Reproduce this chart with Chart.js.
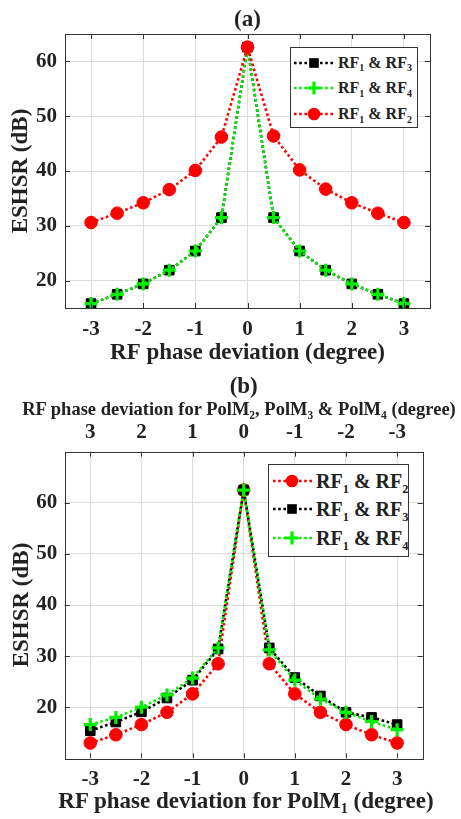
<!DOCTYPE html>
<html>
<head>
<meta charset="utf-8">
<script src="https://cdn.jsdelivr.net/npm/chart.js@4/dist/chart.umd.min.js"></script>
<style>
html,body{margin:0;padding:0;background:#fff;}
body{width:461px;height:819px;position:relative;overflow:hidden;font-family:"Liberation Serif","Times New Roman",serif;font-weight:bold;color:#222;}
#ca{position:absolute;left:0;top:0;}
#cb{position:absolute;left:0;top:372px;}
.leg{position:absolute;border:1px solid #333;background:#fff;box-sizing:border-box;}
.row{position:absolute;left:0;white-space:nowrap;}
.row svg{position:absolute;left:0;top:0;}
.row span{position:absolute;top:0;}
sub{vertical-align:baseline;position:relative;top:0.38em;font-size:0.62em;}
.axt{position:absolute;white-space:nowrap;text-align:center;transform:translateX(-50%);}
</style>
</head>
<body>
<canvas id="ca" width="461" height="372"></canvas>
<canvas id="cb" width="461" height="447"></canvas>
<div id="lega" class="leg" style="left:290px;top:47px;width:128px;height:81px;"></div>
<div id="legb" class="leg" style="left:268px;top:464px;width:141px;height:93px;"></div>
<div id="tb_top" class="axt" style="left:239px;top:399.75px;font-size:18.5px;line-height:18.5px;"></div>
<div id="tb_bot" class="axt" style="left:246px;top:788.5px;font-size:23px;line-height:23px;"></div>
<script>
// ---- data ----
const phase = [-3, -2.5, -2, -1.5, -1, -0.5, 0, 0.5, 1, 1.5, 2, 2.5, 3];
const xTicks = [-3, -2, -1, 0, 1, 2, 3];
const yTicks = [20, 30, 40, 50, 60];

const a_rf12 = [30.6, 32.3, 34.2, 36.6, 40.1, 46.2, 62.6, 46.4, 40.2, 36.7, 34.2, 32.3, 30.6];
const a_rf13 = [15.8, 17.5, 19.4, 21.9, 25.4, 31.5, 62.6, 31.5, 25.4, 21.9, 19.4, 17.5, 15.8];
const a_rf14 = [15.8, 17.5, 19.4, 21.9, 25.4, 31.5, 62.6, 31.5, 25.4, 21.9, 19.4, 17.5, 15.8];

const b_rf12 = [13.0, 14.6, 16.6, 19.0, 22.6, 28.5, 62.5, 28.5, 22.6, 19.0, 16.6, 14.6, 13.0];
const b_rf13 = [15.4, 17.1, 19.1, 21.8, 25.3, 31.4, 62.5, 31.6, 25.8, 22.2, 19.0, 18.0, 16.6];
const b_rf14 = [16.6, 18.0, 20.0, 22.4, 25.7, 31.6, 62.5, 31.2, 25.3, 21.6, 19.0, 17.2, 15.6];

const lbl12 = 'RF₁ & RF₂';
const lbl13 = 'RF₁ & RF₃';
const lbl14 = 'RF₁ & RF₄';

const titleA = '(a)';
const titleB = '(b)';
const xTitleA = 'RF phase deviation (degree)';
const xTitleB = 'RF phase deviation for PolM₁ (degree)';
const x2TitleB = 'RF phase deviation for PolM₂, PolM₃ & PolM₄ (degree)';
const yTitle = 'ESHSR (dB)';

// ---- styling ----
const FONT = '"Liberation Serif", "Times New Roman", serif';
const INK = '#222';
const GRID = '#dcdcdc';
const RED = '#ff0000', GREEN = '#00f000', BLACK = '#000000';

function pts(vals) { return phase.map((x, i) => ({x: x, y: vals[i]})); }
function setTicks(vals) { return function (scale) { scale.ticks = vals.map(v => ({value: v})); }; }
function f(size, lh) { return {family: FONT, size: size, weight: 'bold', lineHeight: lh}; }

const STY = {
  red:   {color: RED, pointStyle: 'circle', r: 6.3, bw: 1},
  black: {color: BLACK, pointStyle: 'rect', r: 6.8, bw: 1},
  green: {color: GREEN, pointStyle: 'cross', r: 6.5, bw: 3.2}
};
function ds(label, vals, s, order) {
  const st = STY[s];
  return {
    label: label, data: pts(vals), order: order,
    borderColor: st.color, backgroundColor: st.color,
    borderWidth: 2.6, borderDash: [2.6, 2.6], tension: 0, fill: false,
    pointStyle: st.pointStyle, pointRadius: st.r, pointBorderWidth: st.bw,
    pointBackgroundColor: st.color, pointBorderColor: st.color, styleKey: s
  };
}

const frame = {
  id: 'frame',
  afterDraw(chart) {
    const ctx = chart.ctx, a = chart.chartArea;
    const xs = chart.scales.x, ys = chart.scales.y;
    ctx.save();
    ctx.strokeStyle = '#333';
    ctx.lineWidth = 1;
    ctx.beginPath();
    xTicks.forEach(v => {
      const px = Math.round(xs.getPixelForValue(v)) + 0.5;
      ctx.moveTo(px, a.bottom); ctx.lineTo(px, a.bottom - 5);
      ctx.moveTo(px, a.top); ctx.lineTo(px, a.top + 5);
    });
    yTicks.forEach(v => {
      const py = Math.round(ys.getPixelForValue(v)) + 0.5;
      ctx.moveTo(a.left, py); ctx.lineTo(a.left + 5, py);
      ctx.moveTo(a.right, py); ctx.lineTo(a.right - 5, py);
    });
    ctx.stroke();
    ctx.strokeRect(Math.round(a.left) + 0.5, Math.round(a.top) + 0.5, Math.round(a.right - a.left), Math.round(a.bottom - a.top));
    ctx.restore();
  }
};

function baseX(pad, title) {
  return {
    type: 'linear', min: -3.5, max: 3.5, afterBuildTicks: setTicks(xTicks),
    grid: {color: GRID, drawTicks: false}, border: {display: false},
    ticks: {padding: pad, color: INK, font: f(21, 1)},
    title: title
  };
}
function baseY(min, max, pad, tpad) {
  return {
    type: 'linear', min: min, max: max, afterBuildTicks: setTicks(yTicks),
    grid: {color: GRID, drawTicks: false}, border: {display: false},
    ticks: {padding: pad, color: INK, font: f(21, 1)},
    title: {display: true, text: yTitle, color: INK, font: f(23, 1), padding: tpad}
  };
}

const chartA = new Chart(document.getElementById('ca'), {
  type: 'line',
  data: {datasets: [
    ds(lbl13, a_rf13, 'black', 2),
    ds(lbl14, a_rf14, 'green', 1),
    ds(lbl12, a_rf12, 'red', 0)
  ]},
  options: {
    responsive: false, animation: false, devicePixelRatio: 1,
    layout: {padding: {left: 9.5, right: 31, top: 0, bottom: 7.5}},
    plugins: {
      legend: {display: false}, tooltip: {enabled: false},
      title: {display: true, fullSize: false, text: titleA, color: INK, font: f(23, 1), padding: {top: 8.5, bottom: 2.5}}
    },
    scales: {
      x: baseX(11.5, {display: true, text: xTitleA, color: INK, font: f(23, 1), padding: {top: -10.5, bottom: 0}}),
      y: baseY(15, 65, 8, {top: 0, bottom: -4.5})
    }
  },
  plugins: [frame]
});

const chartB = new Chart(document.getElementById('cb'), {
  type: 'line',
  data: {datasets: [
    ds(lbl12, b_rf12, 'red', 2),
    ds(lbl13, b_rf13, 'black', 1),
    ds(lbl14, b_rf14, 'green', 0)
  ]},
  options: {
    responsive: false, animation: false, devicePixelRatio: 1,
    layout: {padding: {left: 10.2, right: 38.3, top: 0, bottom: 17.3}},
    plugins: {
      legend: {display: false}, tooltip: {enabled: false},
      title: {display: true, fullSize: false, text: titleB, color: INK, font: f(23, 1), padding: {top: 4, bottom: 15.3}}
    },
    scales: {
      x: baseX(11.2, {display: false}),
      x2: {
        type: 'linear', position: 'top', reverse: true, min: -3.5, max: 3.5,
        afterBuildTicks: setTicks(xTicks),
        grid: {display: false, drawTicks: false}, border: {display: false},
        ticks: {padding: 8.2, color: INK, font: f(21, 1)},
        title: {display: false}
      },
      y: baseY(10, 70, 7.4, {top: 0, bottom: -4.3})
    }
  },
  plugins: [frame]
});

// ---- HTML text with real subscripts ----
function toHTML(s) {
  const m = {'₁': '1', '₂': '2', '₃': '3', '₄': '4'};
  return s.replace(/&/g, '&amp;').replace(/[₁₂₃₄]/g, c => '<sub>' + m[c] + '</sub>');
}
document.getElementById('tb_top').innerHTML = toHTML(x2TitleB);
document.getElementById('tb_bot').innerHTML = toHTML(xTitleB);

function marker(s, cx, cy) {
  const st = STY[s];
  if (s === 'red') return `<circle cx="${cx}" cy="${cy}" r="${st.r}" fill="${st.color}"/>`;
  if (s === 'black') { const h = st.r * Math.SQRT1_2; return `<rect x="${cx - h}" y="${cy - h}" width="${2 * h}" height="${2 * h}" fill="${st.color}"/>`; }
  return `<path d="M${cx - st.r} ${cy}H${cx + st.r}M${cx} ${cy - st.r}V${cy + st.r}" stroke="${st.color}" stroke-width="${st.bw}"/>`;
}
function buildLegend(el, chart, order, rows, x0, x1, mx, tx, fs) {
  const H = 24;
  let html = '';
  order.forEach((di, k) => {
    const d = chart.data.datasets[di];
    const cy = rows[k];
    html += `<div class="row" style="top:${cy - H / 2}px;height:${H}px;width:100%;">` +
      `<svg width="${x1 + 2}" height="${H}"><line x1="${x0}" y1="${H / 2}" x2="${x1}" y2="${H / 2}" stroke="${d.borderColor}" stroke-width="2.6" stroke-dasharray="2.6 2.6"/>` +
      marker(d.styleKey, mx, H / 2) + `</svg>` +
      `<span style="left:${tx}px;font-size:${fs}px;line-height:${H}px;">${toHTML(d.label)}</span></div>`;
  });
  el.innerHTML = html;
}
buildLegend(document.getElementById('lega'), chartA, [0, 1, 2], [14.7, 40.3, 66.3], 3, 44, 23, 47, 16);
buildLegend(document.getElementById('legb'), chartB, [0, 1, 2], [16, 44.3, 73.3], 4, 44, 23, 47, 20);
</script>
</body>
</html>
